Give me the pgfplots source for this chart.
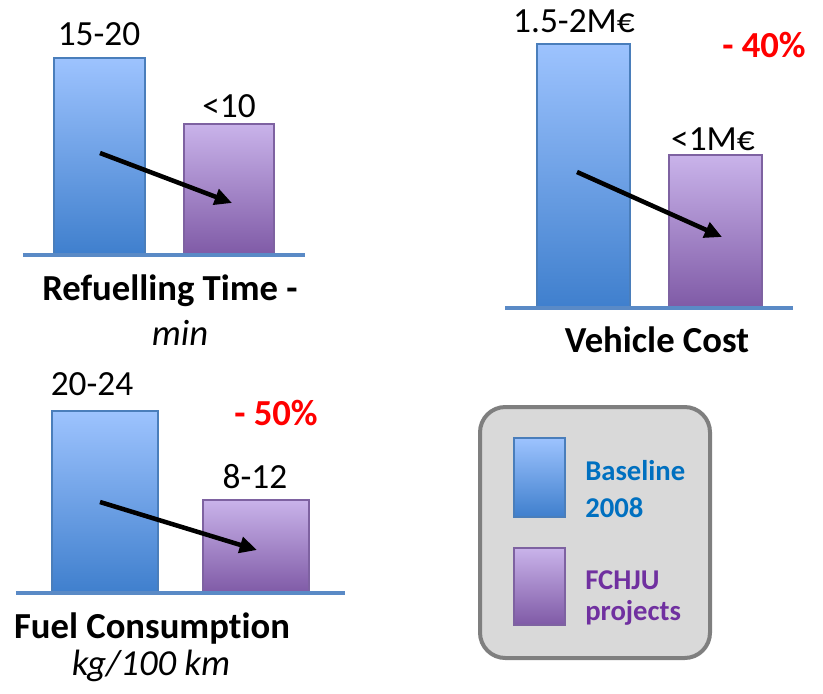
\documentclass[border=0pt]{standalone}
\usepackage{pgfplots}
\pgfplotsset{compat=1.18}
\usepackage{fontspec}
\setmainfont{Carlito}[Ligatures=NoCommon]
\usetikzlibrary{arrows.meta}
\definecolor{bluetop}{HTML}{9DC3FE}
\definecolor{bluebot}{HTML}{3F7FCD}
\definecolor{blueedge}{HTML}{4A7EBB}
\definecolor{purtop}{HTML}{C9B3EA}
\definecolor{purbot}{HTML}{7F5AA6}
\definecolor{puredge}{HTML}{7E62A1}
\definecolor{baseblue}{HTML}{5A8AC6}
\definecolor{legblue}{HTML}{0070C0}
\definecolor{legpur}{HTML}{7030A0}
\definecolor{boxfill}{HTML}{D9D9D9}
\definecolor{boxedge}{HTML}{7F7F7F}
\begin{document}
\begin{tikzpicture}[x=0.75pt,y=-0.75pt,
  num/.style={anchor=base, inner sep=0pt, font=\fontsize{26.5}{31}\selectfont},
  ttl/.style={anchor=base, inner sep=0pt, font=\fontsize{27.5}{32}\selectfont\bfseries},
  sub/.style={anchor=base, inner sep=0pt, font=\fontsize{27.5}{32}\selectfont\itshape},
  red/.style={anchor=base, inner sep=0pt, text=red, font=\fontsize{27.5}{32}\selectfont\bfseries},
  leg/.style={anchor=base west, inner sep=0pt, font=\fontsize{21.5}{26}\selectfont\bfseries},
  arr/.style={line width=3.4pt, -{Triangle[length=13pt,width=12pt]}}]
\path (0,0) rectangle (823,693);
\coordinate (p1) at (23,255);
\coordinate (p2) at (505,308);
\coordinate (p3) at (16,593);
\pgfplotsset{panel/.style={hide axis, clip=false, x=0.75pt, y=0.75pt, ymin=0, anchor=south west},
  bblue/.style={ybar, bar width=91, bar shift=0pt, draw=blueedge, line width=0.8pt, top color=bluetop, bottom color=bluebot},
  bpur/.style={ybar, bar width=91, bar shift=0pt, draw=puredge, line width=0.8pt, top color=purtop, bottom color=purbot}}
% Panel 1: Refuelling time
\begin{axis}[panel, at={(p1)}, xmin=23, xmax=305, ymax=197]
\addplot[bblue] coordinates {(99.5,197)};
\addplot[bpur, bar width=90] coordinates {(229,131)};
\draw[baseblue, line width=3.6pt] (axis cs:23,0) -- (axis cs:305,0);
\end{axis}
% Panel 2: Vehicle cost
\begin{axis}[panel, at={(p2)}, xmin=505, xmax=793, ymax=264]
\addplot[bblue, bar width=93] coordinates {(583.5,264)};
\addplot[bpur, bar width=93] coordinates {(715.5,153)};
\draw[baseblue, line width=3.6pt] (axis cs:505,0) -- (axis cs:793,0);
\end{axis}
% Panel 3: Fuel consumption
\begin{axis}[panel, at={(p3)}, xmin=16, xmax=345, ymax=182]
\addplot[bblue, bar width=106] coordinates {(105,182)};
\addplot[bpur, bar width=106] coordinates {(256,93)};
\draw[baseblue, line width=3.6pt] (axis cs:16,0) -- (axis cs:345,0);
\end{axis}
% arrows
\draw[arr] (100,153) -- (232,203);
\draw[arr] (577,172) -- (722,237);
\draw[arr] (100,502) -- (257,550);
% value labels
\node[num] at (99,45) {15-20};
\node[num] at (229,117) {<10};
\node[num] at (574,32) {1.5-2M€};
\node[num] at (713,150) {<1M€};
\node[num] at (92,395) {20-24};
\node[num] at (255,488) {8-12};
\node[red] at (764,57) {- 40\%};
\node[red] at (276,425) {- 50\%};
% titles
\node[ttl] at (170,300) {Refuelling Time -};
\node[sub] at (180,345) {min};
\node[ttl] at (657,352) {Vehicle Cost};
\node[ttl] at (152,638) {Fuel Consumption};
\node[sub] at (151,675) {kg/100 km};
% legend
\draw[boxedge, line width=3pt, fill=boxfill, rounded corners=19pt] (480,407) rectangle (710,658);
\draw[blueedge, line width=0.8pt, top color=bluetop, bottom color=bluebot] (514,438) rectangle (565,517);
\draw[puredge, line width=0.8pt, top color=purtop, bottom color=purbot] (514,548) rectangle (565,625);
\node[leg, text=legblue] at (585,480) {Baseline};
\node[leg, text=legblue] at (585,517) {2008};
\node[leg, text=legpur] at (585,589) {FCHJU};
\node[leg, text=legpur] at (585,620) {projects};
\end{tikzpicture}
\end{document}
